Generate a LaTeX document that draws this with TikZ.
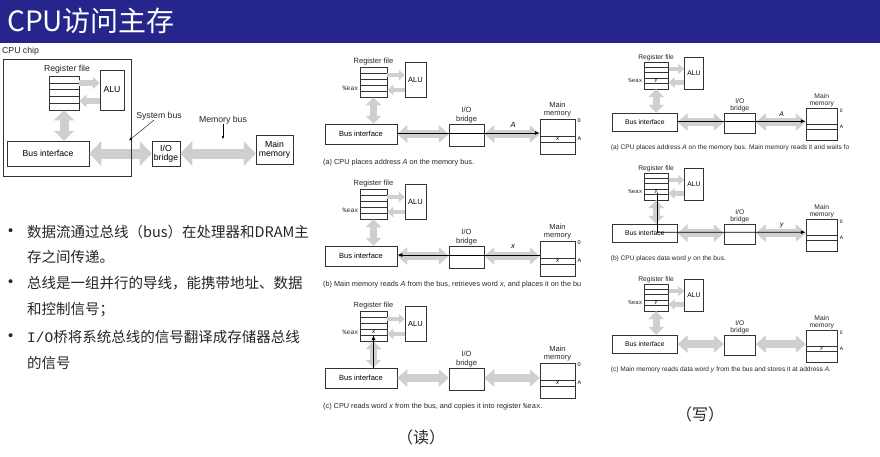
\documentclass[tikz,border=0pt]{standalone}
\usepackage{fontspec}
\setmainfont{Liberation Sans}
\setmonofont{Liberation Mono}
\newfontfamily\cjk{Noto Sans CJK SC}
\usetikzlibrary{arrows.meta}
\definecolor{titleblue}{HTML}{25258C}
\definecolor{busgray}{HTML}{CFCFCF}
\tikzset{
  lbl/.style={inner sep=0pt, text=black!85, font=\fontsize{7.5}{8.2}\selectfont},
  lblL/.style={inner sep=0pt, text=black!85, font=\fontsize{8.7}{10}\selectfont},
  captxt/.style={inner sep=0pt, text=black!85, font=\fontsize{7.3}{8}\selectfont},
  ttl/.style={inner sep=0pt, text=black!85, font=\ttfamily\fontsize{6.5}{7}\selectfont},
  cell/.style={inner sep=0pt, font=\fontsize{6}{6}\selectfont\itshape},
  ital/.style={inner sep=0pt, font=\fontsize{7.5}{8}\selectfont\itshape},
  small/.style={inner sep=0pt, font=\fontsize{5.5}{6}\selectfont},
  box/.style={draw=black!80, line width=0.5pt, fill=white, inner sep=0pt},
  bul/.style={inner sep=0pt, text=black!85, font=\cjk\fontsize{14.5}{17}\selectfont},
  fatS/.style={draw=busgray, line width=4.5pt, -{Triangle[width=10pt,length=6pt]}},
  fatV/.style={draw=busgray, line width=7pt, {Triangle[width=15pt,length=8pt]}-{Triangle[width=15pt,length=8pt]}},
  fatH/.style={draw=busgray, line width=8pt, {Triangle[width=17pt,length=10pt]}-{Triangle[width=17pt,length=10pt]}},
  fatLs/.style={draw=busgray, line width=6pt, -{Triangle[width=12pt,length=7pt]}},
  fatLv/.style={draw=busgray, line width=9pt, {Triangle[width=20pt,length=10pt]}-{Triangle[width=20pt,length=10pt]}},
  fatLh/.style={draw=busgray, line width=10pt, {Triangle[width=24pt,length=12pt]}-{Triangle[width=24pt,length=12pt]}},
  blk/.style={draw=black, line width=0.8pt, -{Latex[length=5pt,width=4pt]}},
  ptr/.style={draw=black, line width=0.4pt, -{Latex[length=3pt,width=2.5pt]}},
}
% #1 prefix, #2 x, #3 y, #4 scale, #5 register cell, #6 memory cell, #7 extra, #8 caption
\newcommand\DPanel[8]{%
\begin{scope}[shift={(#2,#3)}, scale=#4, transform shape, name prefix=#1-]
  \node[lbl] (rfl) at (53.5,17) {Register file};
  \node[box, minimum width=27pt, minimum height=30pt] (rf) at (53.5,37) {};
  \foreach \k in {1,...,4} \draw[black!80, line width=0.4pt] (40,{22+6*\k}) -- (67,{22+6*\k});
  \node[ttl, anchor=east] (eax) at (38.5,43) {\%eax};
  \node[cell] (rc) at (53.5,43) {#5};
  \node[box, minimum width=21pt, minimum height=35pt, font=\fontsize{7.5}{8}\selectfont] (alu) at (95.5,34.5) {ALU};
  \node[box, minimum width=72pt, minimum height=20pt, font=\fontsize{7.5}{8}\selectfont] (bi) at (41,89) {Bus interface};
  \node[box, minimum width=35pt, minimum height=22pt] (br) at (146.5,90) {};
  \node[lbl, align=center] (brl) at (146.5,70) {I/O\\bridge};
  \node[box, minimum width=35pt, minimum height=35pt] (mm) at (237.5,91.5) {};
  \draw[black!80, line width=0.4pt] (220,91) -- (255,91) (220,97) -- (255,97);
  \node[cell] (mc) at (237.5,94) {#6};
  \node[lbl, align=center] (mml) at (237.5,64.5) {Main\\memory};
  \node[small, anchor=west] (z0) at (257.5,76) {0};
  \node[small, anchor=west] (zA) at (257.5,94) {A};
  \draw[fatS] (rf.east |- 0,30) -- (alu.west |- 0,30);
  \draw[fatS] (alu.west |- 0,45) -- (rf.east |- 0,45);
  \draw[fatV] (rf.south) -- (rf.south |- bi.north);
  \draw[fatH] (bi.east |- 0,89) -- (br.west |- 0,89);
  \draw[fatH] (br.east |- 0,89) -- (mm.west |- 0,89);
  #7
  \node[captxt, anchor=west] (capt) at (3,118) {#8};
\end{scope}}

\begin{document}
\begin{tikzpicture}[x=1pt, y=-1pt]
\useasboundingbox (0,0) rectangle (880,456);
\clip (0,0) rectangle (880,456);
\fill[white] (0,0) rectangle (880,456);
% title bar
\fill[titleblue] (0,0) rectangle (880,43);
\node[anchor=west, inner sep=0pt, text=white, font=\cjk\fontsize{28}{30}\selectfont] (title) at (7,20.5) {CPU访问主存};

% ---------- left overview diagram ----------
\node[lblL, anchor=west] (chipl) at (2,51) {CPU chip};
\node[lblL] (rfLl) at (67,69) {Register file};
\node[box, minimum width=30pt, minimum height=34pt] (rfL) at (64,93) {};
\foreach \k in {1,...,4} \draw[black!80, line width=0.4pt] (49,{76+6.8*\k}) -- (79,{76+6.8*\k});
\node[box, minimum width=24pt, minimum height=40pt, font=\fontsize{8.7}{10}\selectfont] (aluL) at (112,90) {ALU};
\node[box, minimum width=82pt, minimum height=25pt, font=\fontsize{8.7}{10}\selectfont] (biL) at (48,153.5) {Bus interface};
\node[box, minimum width=28pt, minimum height=25pt, align=center, font=\fontsize{8.7}{9.5}\selectfont] (brL) at (166,153.5) {I/O\\bridge};
\node[box, minimum width=37pt, minimum height=29pt, align=center, font=\fontsize{8.7}{9.5}\selectfont] (mmL) at (274.5,149.5) {Main\\memory};
\draw[fatLs] (rfL.east |- 0,83) -- (aluL.west |- 0,83);
\draw[fatLs] (aluL.west |- 0,101) -- (rfL.east |- 0,101);
\draw[fatLv] (rfL.south) -- (rfL.south |- biL.north);
\draw[fatLh] (biL.east) -- (brL.west);
\draw[fatLh] (brL.east) -- (mmL.west |- brL.east);
\node[draw=black!80, line width=0.6pt, minimum width=128pt, minimum height=117pt, inner sep=0pt] (chip) at (67,117.5) {};
\node[lblL] (sbl) at (159,116) {System bus};
\coordinate (sbp) at (129,140.5);
\draw[ptr] (sbl) -- (sbp);
\node[lblL] (mbl) at (223,120) {Memory bus};
\coordinate (mbp) at (223,139);
\draw[ptr] (mbl) -- (mbp);

% ---------- bullets ----------
\node[bul, anchor=west, font=\fontsize{14.5}{17}\selectfont] (d1) at (8,232) {•};
\node[bul, anchor=west] (b1) at (27,232) {数据流通过总线（bus）在处理器和DRAM主};
\node[bul, anchor=west] (b1b) at (27,257) {存之间传递。};
\node[bul, anchor=west, font=\fontsize{14.5}{17}\selectfont] (d2) at (8,283) {•};
\node[bul, anchor=west] (b2) at (27,283) {总线是一组并行的导线，能携带地址、数据};
\node[bul, anchor=west] (b2b) at (27,310) {和控制信号；};
\node[bul, anchor=west, font=\fontsize{14.5}{17}\selectfont] (d3) at (8,337) {•};
\node[bul, anchor=west] (b3) at (27,337) {{\ttfamily I/O}桥将系统总线的信号翻译成存储器总线};
\node[bul, anchor=west] (b3b) at (27,363) {的信号};

% ---------- read panels ----------
\DPanel{ma}{320}{45}{1}{}{x}{%
  \draw[blk] (bi.east |- 0,88) -- (mm.west |- 0,88);
  \node[ital] (lab) at (193,80) {A};}%
  {(a) CPU places address \textit{A} on the memory bus.}
\DPanel{mb}{320}{167}{1}{}{x}{%
  \draw[blk] (mm.west |- 0,88) -- (bi.east |- 0,88);
  \node[ital] (lab) at (193,80) {x};}%
  {(b) Main memory reads \textit{A} from the bus, retrieves word \textit{x}, and places it on the bu}
\DPanel{mc}{320}{289}{1}{x}{x}{%
  \draw[blk] (rf.south |- bi.north) -- (rf.south |- 0,46);}%
  {(c) CPU reads word \textit{x} from the bus, and copies it into register {\ttfamily\%eax}.}
\node[bul, font=\cjk\fontsize{16}{18}\selectfont] (read) at (421,437) {（读）};

% ---------- write panels ----------
\DPanel{ra}{608}{42}{0.9}{y}{}{%
  \draw[blk] (bi.east |- 0,88) -- (mm.west |- 0,88);
  \node[ital] (lab) at (193,80) {A};}%
  {(a) CPU places address \textit{A} on the memory bus. Main memory reads it and waits fo}
\DPanel{rb}{608}{153}{0.9}{y}{}{%
  \coordinate (ys) at (55,44);
  \draw[blk] (ys) -- (55,88) -- (mm.west |- 0,88);
  \node[ital] (lab) at (193,80) {y};}%
  {(b) CPU places data word \textit{y} on the bus.}
\DPanel{rc}{608}{264}{0.9}{y}{y}{}%
  {(c) Main memory reads data word \textit{y} from the bus and stores it at address \textit{A}.}
\node[bul, font=\cjk\fontsize{16}{18}\selectfont] (write) at (700,414) {（写）};
\end{tikzpicture}
\end{document}
